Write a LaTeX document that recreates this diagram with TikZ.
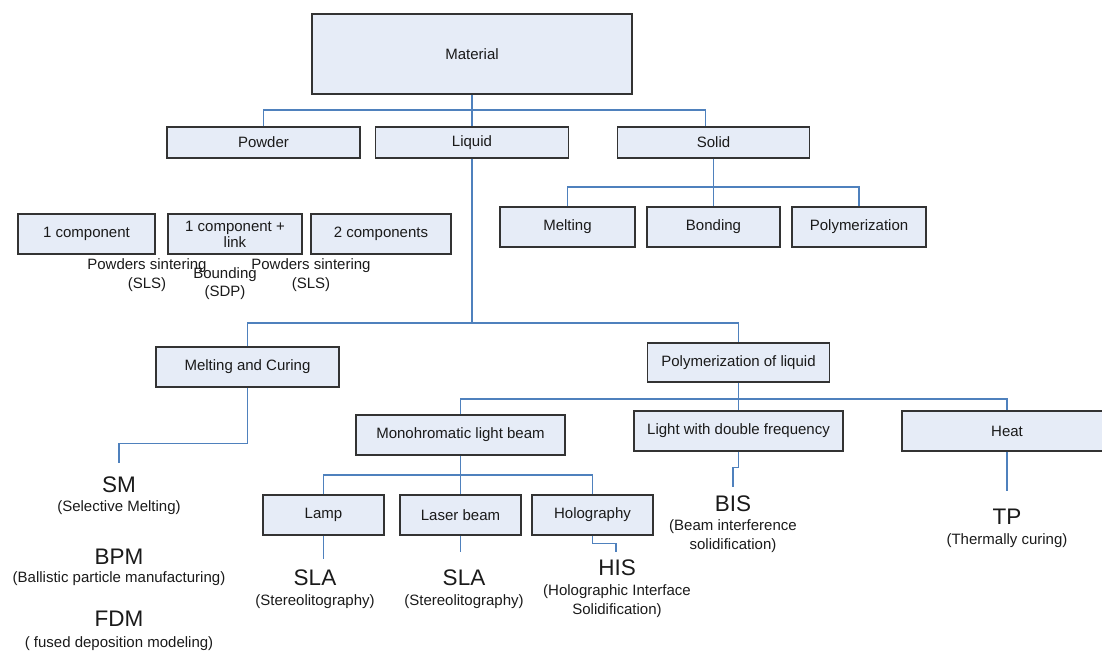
\documentclass[tikz,border=0pt]{standalone}
\usepackage{fontspec}
\setmainfont{Liberation Sans}
\definecolor{boxfill}{HTML}{E6ECF7}
\definecolor{boxline}{HTML}{333333}
\definecolor{conncol}{HTML}{4F81BD}
\definecolor{txtcol}{HTML}{1A1A1A}
\tikzset{
  box/.style={draw=boxline, fill=boxfill, line width=1.1pt, inner sep=0pt, align=center,
    text=txtcol, font=\fontsize{15}{16}\selectfont},
  conn/.style={draw=conncol, line width=1.3pt},
  lbl/.style={inner sep=0pt, align=center, text=txtcol, font=\fontsize{15}{18.5}\selectfont},
  acro/.style={inner sep=0pt, text=txtcol, font=\fontsize{22.5}{24}\selectfont}
}
\begin{document}
\begin{tikzpicture}[x=1pt,y=-1pt]
\useasboundingbox (0,0) rectangle (1102,651);
% boxes
\node[box, minimum width=320, minimum height=80] (mat) at (472,54) {Material};
\node[box, minimum width=193, minimum height=31] (powder) at (263.5,142.5) {Powder};
\node[box, minimum width=193, minimum height=31] (liquid) at (472,142.5) {Liquid};
\node[box, minimum width=192, minimum height=31] (solid) at (713.5,142.5) {Solid};
\node[box, minimum width=135, minimum height=40] (melting) at (567.5,227) {Melting};
\node[box, minimum width=133, minimum height=40] (bonding) at (713.5,227) {Bonding};
\node[box, minimum width=134, minimum height=40] (polym) at (859,227) {Polymerization};
\node[box, minimum width=137, minimum height=40] (c1) at (86.5,234) {1 component};
\node[box, minimum width=134, minimum height=40] (c1l) at (235,234) {1 component +\\link};
\node[box, minimum width=140, minimum height=40] (c2) at (381,234) {2 components};
\node[box, minimum width=183, minimum height=40] (mc) at (247.5,367) {Melting and Curing};
\node[box, minimum width=182, minimum height=39] (pol) at (738.5,362.5) {Polymerization of liquid};
\node[box, minimum width=209, minimum height=40] (mono) at (460.5,435) {Monohromatic light beam};
\node[box, minimum width=209, minimum height=40] (light) at (738.5,431) {Light with double frequency};
\node[box, minimum width=210, minimum height=40] (heat) at (1007,431) {Heat};
\node[box, minimum width=121, minimum height=40] (lamp) at (323.5,515) {Lamp};
\node[box, minimum width=121, minimum height=40] (laser) at (460.5,515) {Laser beam};
\node[box, minimum width=121, minimum height=40] (holo) at (592.5,515) {Holography};

% powder labels
\node[lbl] (sls1) at (147,275) {Powders sintering\\(SLS)};
\node[lbl] (sdp) at (225,283.5) {Bounding\\(SDP)};
\node[lbl] (sls2) at (311,275) {Powders sintering\\(SLS)};

% result labels
\node[acro] (sm) at (119,485) {SM};
\node[lbl] (smd) at (119,508) {(Selective Melting)};
\node[acro] (bpm) at (119,557) {BPM};
\node[lbl] (bpmd) at (119,579) {(Ballistic particle manufacturing)};
\node[acro] (fdm) at (119,619) {FDM};
\node[lbl] (fdmd) at (119,644) {( fused deposition modeling)};
\node[acro] (sla1) at (315,578) {SLA};
\node[lbl] (sla1d) at (315,602) {(Stereolitography)};
\node[acro] (sla2) at (464,578) {SLA};
\node[lbl] (sla2d) at (464,602) {(Stereolitography)};
\node[acro] (his) at (617,568) {HIS};
\node[lbl] (hisd) at (617,601) {(Holographic Interface\\Solidification)};
\node[acro] (bis) at (733,504) {BIS};
\node[lbl] (bisd) at (733,536) {(Beam interference\\solidification)};
\node[acro] (tp) at (1007,517) {TP};
\node[lbl] (tpd) at (1007,541) {(Thermally curing)};

% bus coordinates and free ends
\coordinate (b1) at (472,110);
\coordinate (b2) at (713.5,187);
\coordinate (b3) at (472,323);
\coordinate (b4) at (738.5,399);
\coordinate (b5) at (460.5,475);
\coordinate (smtop) at (119,463);
\coordinate (sla1top) at (323.5,559);
\coordinate (sla2top) at (460.5,552);
\coordinate (histop) at (616,552);
\coordinate (bistop) at (733,487);
\coordinate (tptop) at (1007,491);

% connectors
\draw[conn] (mat.south) -- (liquid.north);
\draw[conn] (powder.north) |- (b1) -| ([xshift=-8pt]solid.north);
\draw[conn] (solid.south) -- (bonding.north);
\draw[conn] (melting.north) |- (b2) -| (polym.north);
\draw[conn] (liquid.south) -- (b3);
\draw[conn] (mc.north) |- (b3) -| (pol.north);
\draw[conn] (pol.south) -- (light.north);
\draw[conn] (mono.north) |- (b4) -| (heat.north);
\draw[conn] (mono.south) -- (laser.north);
\draw[conn] (lamp.north) |- (b5) -| (holo.north);
\draw[conn] (mc.south) -- ++(0,56) -| (smtop);
\draw[conn] (lamp.south) -- (sla1top);
\draw[conn] (laser.south) -- (sla2top);
\draw[conn] (holo.south) -- ++(0,8) -| (histop);
\draw[conn] (light.south) -- ++(0,16) -| (bistop);
\draw[conn] (heat.south) -- (tptop);
\end{tikzpicture}
\end{document}
